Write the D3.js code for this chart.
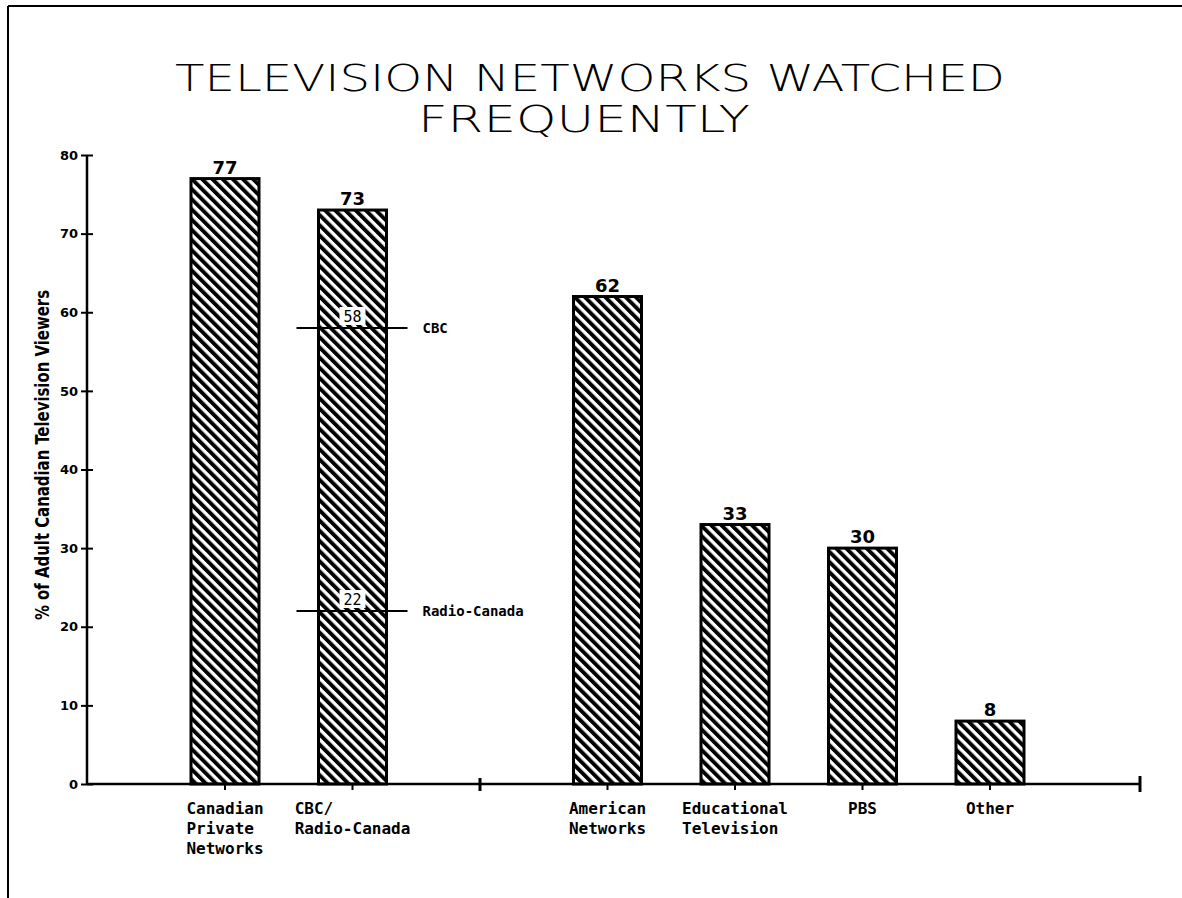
<!DOCTYPE html>
<html>
<head>
<meta charset="utf-8">
<script src="https://cdn.jsdelivr.net/npm/d3@7"></script>
<style>
  body { margin: 0; background: #fff; }
  svg { display: block; }
</style>
</head>
<body>
<div id="chart"></div>
<script>
// Data
const categories = [
    ["Canadian", "Private", "Networks"],
    ["CBC/", "Radio-Canada"],
    ["American", "Networks"],
    ["Educational", "Television"],
    ["PBS"],
    ["Other"]
];
const values = [77, 73, 62, 33, 30, 8];
const subLabels = ["CBC", "Radio-Canada"];
const subValues = [58, 22];
const yTicks = [0, 10, 20, 30, 40, 50, 60, 70, 80];

const width = 1182;
const height = 898;

const svg = d3.select("#chart")
    .append("svg")
    .attr("width", width)
    .attr("height", height);

// hatch pattern, lines running top-left to bottom-right
const defs = svg.append("defs");
defs.append("pattern")
    .attr("id", "hatch")
    .attr("patternUnits", "userSpaceOnUse")
    .attr("width", 7.2)
    .attr("height", 7.2)
    .attr("patternTransform", "rotate(-45)")
    .append("rect")
    .attr("x", 0)
    .attr("y", 0)
    .attr("width", 3.9)
    .attr("height", 7.2)
    .attr("fill", "#000");

// page frame (top and left edges only, like the scan)
svg.append("line").attr("x1", 8).attr("x2", width).attr("y1", 6).attr("y2", 6)
    .attr("stroke", "#000").attr("stroke-width", 2);
svg.append("line").attr("x1", 8).attr("x2", 8).attr("y1", 6).attr("y2", height)
    .attr("stroke", "#000").attr("stroke-width", 2);

// title
const title = svg.append("g")
    .attr("font-family", "'DejaVu Sans', sans-serif")
    .attr("font-weight", 200)
    .attr("font-size", 37)
    .attr("text-anchor", "middle");
title.append("text").attr("x", 590).attr("y", 91)
    .attr("textLength", 830).attr("lengthAdjust", "spacingAndGlyphs")
    .text("TELEVISION NETWORKS WATCHED");
title.append("text").attr("x", 584).attr("y", 132)
    .attr("textLength", 332).attr("lengthAdjust", "spacingAndGlyphs")
    .text("FREQUENTLY");

// scales
const keys = categories.map(c => c.join(" "));
const slots = [keys[0], keys[1], "gap", ...keys.slice(2)];
const x = d3.scalePoint().domain(slots).range([225, 990]);
const y = d3.scaleLinear().domain([0, 80]).range([784, 155]);
const barW = 68;

// y axis
const yAxis = svg.append("g")
    .attr("transform", "translate(87,0)")
    .call(d3.axisLeft(y).tickValues(yTicks).tickSize(6).tickPadding(4));
yAxis.select(".domain").attr("stroke-width", 2.5).attr("d", `M0,${y(80)}V${y(0)}`);
yAxis.selectAll(".tick line").attr("x1", -6).attr("x2", 6).attr("stroke-width", 2);
yAxis.selectAll(".tick text")
    .attr("font-family", "'DejaVu Sans', sans-serif")
    .attr("font-weight", "bold")
    .attr("font-size", 13)
    .attr("x", -9);

// y axis title
svg.append("text")
    .attr("transform", "translate(49,455) rotate(-90)")
    .attr("text-anchor", "middle")
    .attr("font-family", "'Liberation Sans Narrow', 'DejaVu Sans Condensed', sans-serif")
    .attr("font-weight", "bold")
    .attr("font-size", 20)
    .attr("textLength", 330)
    .attr("lengthAdjust", "spacingAndGlyphs")
    .text("% of Adult Canadian Television Viewers");

// bars
const bars = svg.append("g");
bars.selectAll("rect")
    .data(values)
    .join("rect")
    .attr("x", (d, i) => x(keys[i]) - barW / 2)
    .attr("y", d => y(d))
    .attr("width", barW)
    .attr("height", d => y(0) - y(d))
    .attr("fill", "url(#hatch)")
    .attr("stroke", "#000")
    .attr("stroke-width", 3);

// value labels
svg.append("g").selectAll("text")
    .data(values)
    .join("text")
    .attr("x", (d, i) => x(keys[i]))
    .attr("y", d => y(d) - 5)
    .attr("text-anchor", "middle")
    .attr("font-family", "'DejaVu Sans', sans-serif")
    .attr("font-weight", "bold")
    .attr("font-size", 18)
    .text(d => d);

// x axis
svg.append("line")
    .attr("x1", 87).attr("x2", 1140)
    .attr("y1", y(0)).attr("y2", y(0))
    .attr("stroke", "#000").attr("stroke-width", 2.5);
svg.append("g").selectAll("line")
    .data(keys)
    .join("line")
    .attr("x1", d => x(d)).attr("x2", d => x(d))
    .attr("y1", y(0)).attr("y2", y(0) + 6)
    .attr("stroke", "#000").attr("stroke-width", 2);
svg.append("line")
    .attr("x1", x("gap")).attr("x2", x("gap"))
    .attr("y1", y(0) - 6).attr("y2", y(0) + 7)
    .attr("stroke", "#000").attr("stroke-width", 3);
svg.append("line")
    .attr("x1", 1140).attr("x2", 1140)
    .attr("y1", y(0) - 8).attr("y2", y(0) + 8)
    .attr("stroke", "#000").attr("stroke-width", 3);

// category labels, lines left-aligned and the block centred on the tick
const catG = svg.append("g")
    .attr("font-family", "'DejaVu Sans Mono', monospace")
    .attr("font-weight", "bold")
    .attr("font-size", 16);
categories.forEach((lines, i) => {
    const t = catG.append("text").attr("y", 814);
    lines.forEach((line, j) => {
        t.append("tspan").attr("x", 0).attr("dy", j === 0 ? 0 : 20).text(line);
    });
    const w = t.node().getBBox().width;
    t.selectAll("tspan").attr("x", x(keys[i]) - w / 2);
});

// CBC / Radio-Canada split markers on the second bar
const cx = x(keys[1]);
const mark = svg.append("g").selectAll("g")
    .data(subValues)
    .join("g");
mark.append("line")
    .attr("x1", cx - 56).attr("x2", cx + 55)
    .attr("y1", d => y(d)).attr("y2", d => y(d))
    .attr("stroke", "#000").attr("stroke-width", 2);
mark.append("rect")
    .attr("x", cx - 13).attr("y", d => y(d) - 21)
    .attr("width", 26).attr("height", 18)
    .attr("fill", "#fff");
mark.append("text")
    .attr("x", cx).attr("y", d => y(d) - 6)
    .attr("text-anchor", "middle")
    .attr("font-family", "'DejaVu Sans Mono', monospace")
    .attr("font-size", 15)
    .text(d => d);
mark.append("text")
    .attr("x", cx + 70).attr("y", d => y(d) + 5)
    .attr("font-family", "'DejaVu Sans Mono', monospace")
    .attr("font-weight", "bold")
    .attr("font-size", 14)
    .text((d, i) => subLabels[i]);
</script>
</body>
</html>
